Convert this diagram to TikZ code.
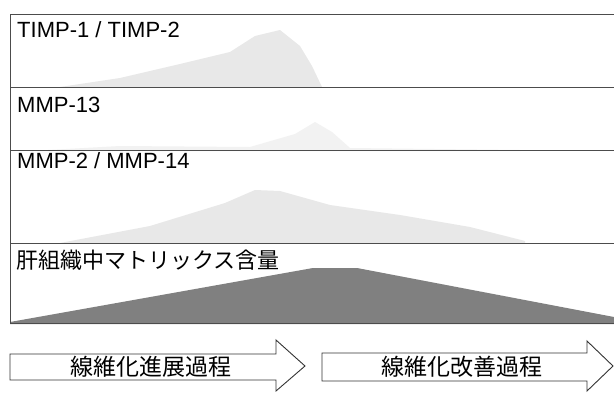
\documentclass[tikz,border=0pt]{standalone}
\usepackage{fontspec}
\setmainfont{Liberation Sans}
\newfontfamily\cjk{Noto Sans CJK JP}
\begin{document}
\begin{tikzpicture}[x=1pt,y=-1pt,
  frameline/.style={draw=black!70,line width=0.8pt},
  stipple/.style={fill=black!9,draw=none},
  lbl/.style={anchor=base west,inner sep=0pt,font=\fontsize{22}{22}\selectfont},
  cjklbl/.style={anchor=base west,inner sep=0pt,font=\cjk\fontsize{22}{22}\selectfont},
  arrowbox/.style={draw=black!80,line width=0.9pt,fill=white,line join=miter},
  arrowtxt/.style={inner sep=0pt,font=\cjk\fontsize{23}{23}\selectfont}]
\useasboundingbox (0,0) rectangle (614,392);
\fill[white] (0,0) rectangle (614,392);
% faint distributions
\fill[stipple] (60,87) -- (120,78) -- (180,64) -- (230,52) -- (255,36) -- (280,30) -- (300,46) -- (312,66) -- (322,87) -- cycle;
\fill[black!5] (30,151) -- (120,146) -- (250,147) -- (295,134) -- (315,122) -- (332,132) -- (350,148) -- (520,150) -- (520,151) -- cycle;
\fill[stipple] (60,243) -- (150,226) -- (225,203) -- (255,190) -- (280,191) -- (330,205) -- (400,215) -- (470,227) -- (525,241) -- (525,243) -- cycle;
% matrix content
\fill[black!50] (10,322) -- (313,268) -- (357,268) -- (614,317) -- (614,324) -- (10,324) -- cycle;
% frame lines
\draw[frameline] (614,14) -- (10,14) -- (10,323);
\draw[frameline] (10,87) -- (614,87);
\draw[frameline] (10,150) -- (614,150);
\draw[frameline] (10,243) -- (614,243);
\draw[frameline] (10,323) -- (614,323);
% labels
\node[lbl] (timp) at (17,37) {TIMP-1 / TIMP-2};
\node[lbl] (mmp13) at (17,112) {MMP-13};
\node[lbl] (mmp2) at (17,168) {MMP-2 / MMP-14};
\node[cjklbl] (matrix) at (16,268) {肝組織中マトリックス含量};
% arrows
\draw[arrowbox] (10,354) -- (276,354) -- (276,340) -- (305,366) -- (276,391) -- (276,380) -- (10,380) -- cycle;
\draw[arrowbox] (322,353) -- (587,353) -- (587,341) -- (613,366) -- (587,391) -- (587,381) -- (322,381) -- cycle;
\node[arrowtxt] (prog) at (151,367) {線維化進展過程};
\node[arrowtxt] (impr) at (462,367) {線維化改善過程};
\end{tikzpicture}
\end{document}
